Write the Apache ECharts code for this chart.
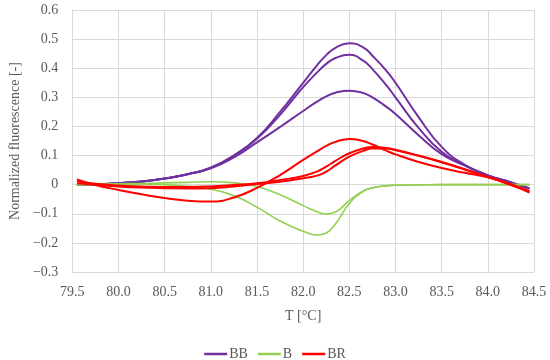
<!DOCTYPE html>
<html>
<head>
<meta charset="utf-8">
<script src="https://cdn.jsdelivr.net/npm/echarts@6/dist/echarts.min.js"></script>
<style>html,body{margin:0;padding:0;background:#fff}#c{width:550px;height:360px}</style>
</head>
<body>
<div id="c"></div>
<script>
// Temperatures (°C) shared by all curves
const temps = [79.55, 79.75, 80.0, 80.25, 80.5, 80.75, 81.0, 81.25, 81.5, 81.75, 82.0, 82.15, 82.25, 82.35, 82.5, 82.65, 82.75, 82.9, 83.0, 83.25, 83.5, 83.75, 84.0, 84.25, 84.45];

// BB curves
const bb1 = [0.000, 0.001, 0.005, 0.011, 0.021, 0.036, 0.058, 0.100, 0.160, 0.250, 0.350, 0.410, 0.445, 0.470, 0.486, 0.472, 0.443, 0.392, 0.350, 0.232, 0.130, 0.068, 0.032, 0.008, -0.012];
const bb2 = [0.000, 0.001, 0.005, 0.011, 0.021, 0.036, 0.058, 0.100, 0.158, 0.240, 0.335, 0.385, 0.415, 0.435, 0.446, 0.426, 0.397, 0.342, 0.300, 0.195, 0.113, 0.066, 0.032, 0.008, -0.013];
const bb3 = [0.000, 0.001, 0.005, 0.011, 0.021, 0.036, 0.056, 0.094, 0.145, 0.198, 0.253, 0.285, 0.303, 0.316, 0.323, 0.315, 0.300, 0.268, 0.243, 0.170, 0.105, 0.066, 0.032, 0.008, -0.014];

// B curves
const b1 = [0.000, 0.001, 0.003, 0.004, 0.006, 0.008, 0.010, 0.006, -0.006, -0.035, -0.072, -0.093, -0.101, -0.094, -0.055, -0.022, -0.011, -0.004, -0.002, -0.001, 0.000, 0.000, 0.000, 0.000, 0.000];
const b2 = [0.000, 0.001, 0.002, 0.002, 0.000, -0.006, -0.016, -0.038, -0.077, -0.125, -0.160, -0.173, -0.166, -0.135, -0.065, -0.023, -0.011, -0.004, -0.002, -0.001, 0.000, 0.000, 0.000, 0.000, 0.000];

// BR curves
const br1 = [0.018, -0.001, -0.018, -0.033, -0.046, -0.055, -0.058, -0.044, -0.011, 0.033, 0.085, 0.114, 0.133, 0.147, 0.157, 0.150, 0.138, 0.117, 0.104, 0.078, 0.057, 0.041, 0.025, -0.001, -0.025];
const br2 = [0.012, 0.003, -0.003, -0.006, -0.008, -0.008, -0.006, -0.001, 0.005, 0.016, 0.030, 0.045, 0.062, 0.082, 0.108, 0.124, 0.129, 0.126, 0.120, 0.100, 0.078, 0.053, 0.027, 0.002, -0.022];
const br3 = [0.005, 0.000, -0.006, -0.010, -0.012, -0.013, -0.012, -0.006, 0.002, 0.010, 0.022, 0.031, 0.045, 0.066, 0.096, 0.116, 0.124, 0.124, 0.118, 0.099, 0.077, 0.052, 0.026, 0.000, -0.027];

const groupNames = ['BB', 'B', 'BR'];
const groupColors = ['#7030A0', '#92D050', '#FF0000'];

const FONT = 'Liberation Serif';
const TXT = '#595959';

function mk(name, color, vals, width) {
  return {
    name: name, type: 'line', smooth: 0.5, symbol: 'none',
    lineStyle: { color: color, width: width },
    itemStyle: { color: color },
    data: temps.map((t, i) => [t, vals[i]])
  };
}

const series = [
  mk(groupNames[0], groupColors[0], bb1, 2),
  mk(groupNames[0], groupColors[0], bb2, 2),
  mk(groupNames[0], groupColors[0], bb3, 2),
  mk(groupNames[1], groupColors[1], b1, 1.6),
  mk(groupNames[1], groupColors[1], b2, 1.6),
  mk(groupNames[2], groupColors[2], br1, 2),
  mk(groupNames[2], groupColors[2], br2, 2),
  mk(groupNames[2], groupColors[2], br3, 2)
];

const chart = echarts.init(document.getElementById('c'), null, { renderer: 'canvas' });
chart.setOption({
  animation: false,
  backgroundColor: '#fff',
  grid: { left: 58, right: 16, top: 10, bottom: 88, containLabel: false },
  legend: {
    data: groupNames,
    top: 342,
    left: 'center',
    icon: 'rect',
    itemWidth: 23,
    itemHeight: 2.5,
    itemGap: 10,
    textStyle: { fontFamily: FONT, fontSize: 14, color: TXT, padding: [0, 0, 0, -3] }
  },
  xAxis: {
    type: 'value', min: 79.5, max: 84.5, interval: 0.5,
    name: 'T [°C]', nameLocation: 'middle', nameGap: 37,
    nameTextStyle: { fontFamily: FONT, fontSize: 14, color: TXT },
    axisLine: { onZero: false, lineStyle: { color: '#d9d9d9', width: 1 } },
    axisTick: { show: false },
    axisLabel: { margin: 13, fontFamily: FONT, fontSize: 14, color: TXT, formatter: v => v.toFixed(1) },
    splitLine: { show: true, lineStyle: { color: '#d9d9d9', width: 1 } }
  },
  yAxis: {
    type: 'value', min: -0.3, max: 0.6, interval: 0.1,
    name: 'Normalized fluorescence [-]', nameLocation: 'middle', nameGap: 43,
    nameTextStyle: { fontFamily: FONT, fontSize: 14, color: TXT },
    axisLine: { show: true, lineStyle: { color: '#d9d9d9', width: 1 } },
    axisTick: { show: false },
    axisLabel: {
      margin: 14, fontFamily: FONT, fontSize: 14, color: TXT,
      formatter: v => {
        const r = Math.round(v * 10) / 10;
        if (r === 0) return '0';
        return r < 0 ? '\u2212' + Math.abs(r).toFixed(1) : r.toFixed(1);
      }
    },
    splitLine: { show: true, lineStyle: { color: '#d9d9d9', width: 1 } }
  },
  series: series
});
</script>
</body>
</html>
